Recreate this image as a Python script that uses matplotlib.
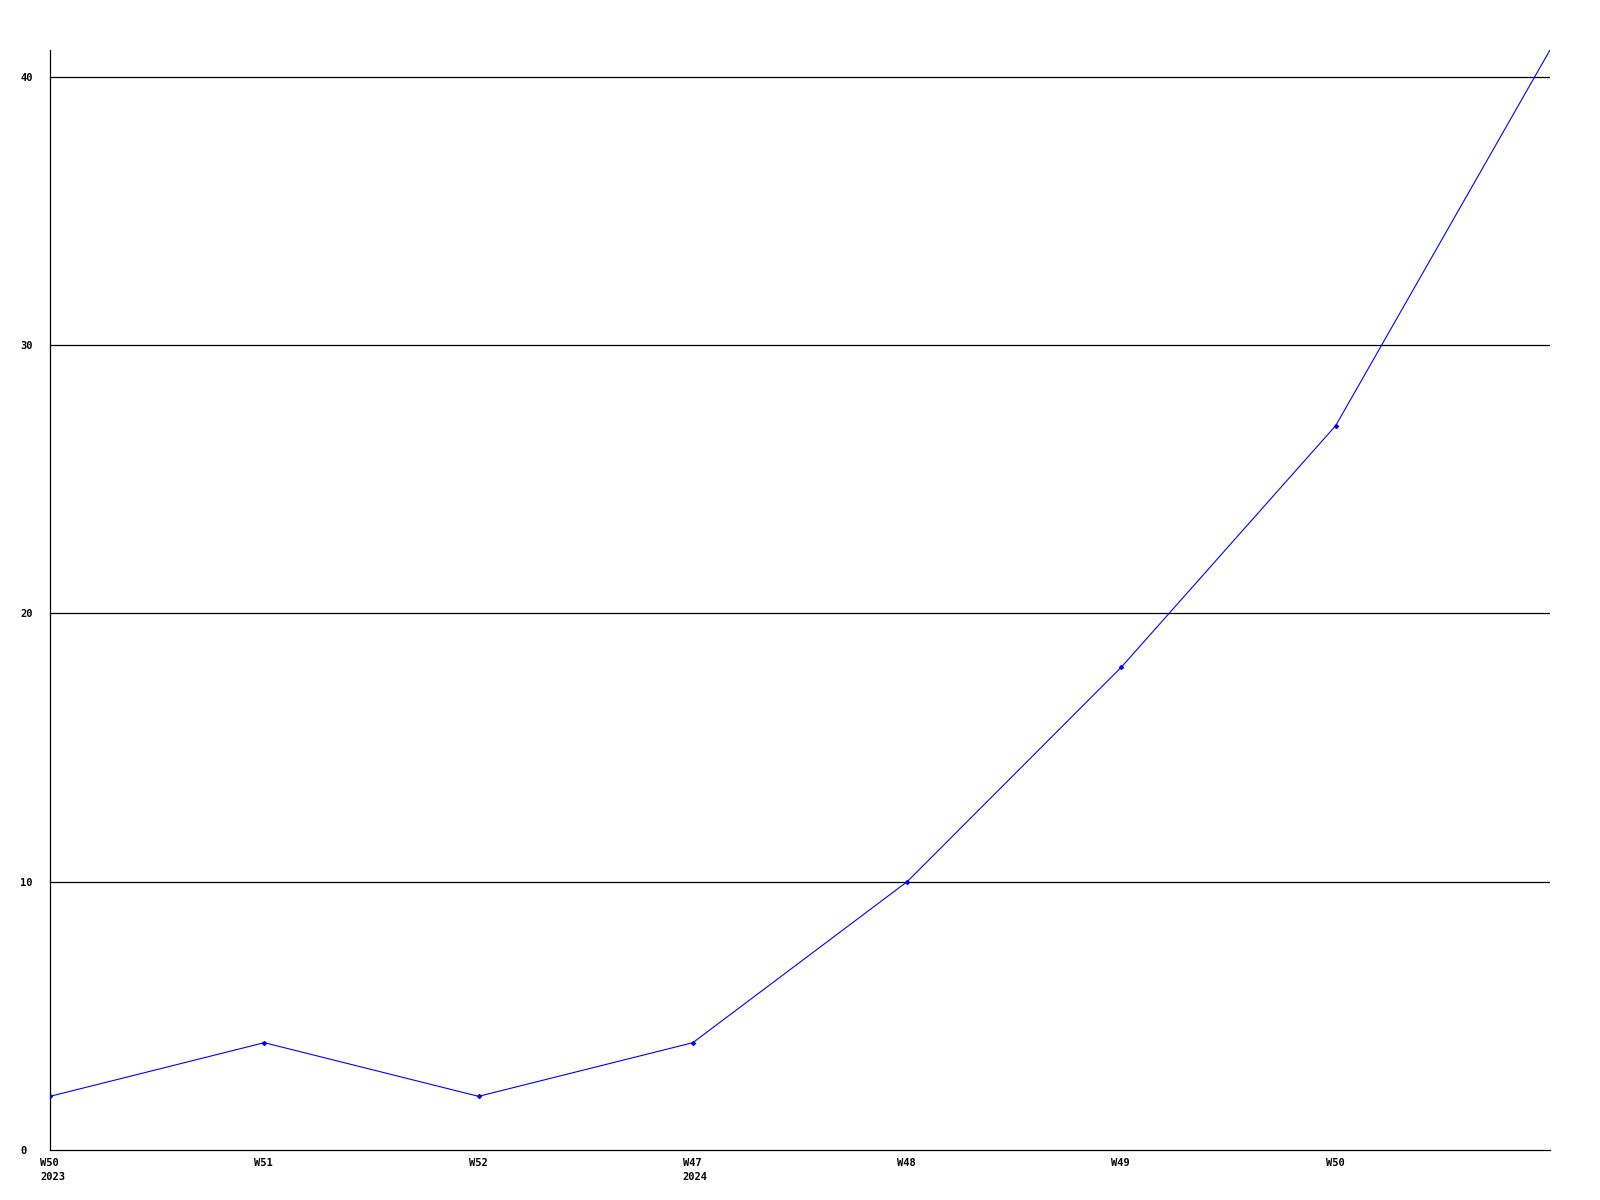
import numpy as np
import matplotlib
matplotlib.use("Agg")
from matplotlib import pyplot as plt
from matplotlib import transforms

# weekly counts, last point runs off to the right edge
week_labels = ["W50\n2023", "W51", "W52", "W47\n2024", "W48", "W49", "W50", ""]
counts = [2, 4, 2, 4, 10, 18, 27, 41]
y_ticks = [0, 10, 20, 30, 40]

fig = plt.figure(figsize=(16, 12), dpi=100)
ax = fig.add_axes([50 / 1600, 50 / 1200, 1500 / 1600, 1100 / 1200])

x = np.arange(len(counts))
ax.plot(x, counts, color="#0000ff", linewidth=0.8, marker="D", markersize=2,
        markevery=list(range(len(counts) - 1)), zorder=3)

ax.set_xlim(0, len(counts) - 1)
ax.set_ylim(0, max(counts))

for yv in y_ticks[1:]:
    ax.axhline(yv, color="black", linewidth=0.9, zorder=1)

ax.spines["top"].set_visible(False)
ax.spines["right"].set_visible(False)
ax.spines["left"].set_linewidth(0.9)
ax.spines["bottom"].set_linewidth(0.9)

font = dict(family="DejaVu Sans Mono", weight="bold", size=7.5)

ax.set_xticks(x)
ax.set_xticklabels(week_labels, ha="left", va="top", linespacing=1.5, **font)
ax.set_yticks(y_ticks)
ax.set_yticklabels([str(v) for v in y_ticks], ha="left", **font)
ax.tick_params(axis="both", length=0)
ax.tick_params(axis="x", pad=6)
ax.tick_params(axis="y", pad=21.5)

shift = transforms.ScaledTranslation(-10 / 100, 0, fig.dpi_scale_trans)
for lbl in ax.get_xticklabels():
    lbl.set_transform(lbl.get_transform() + shift)

fig.savefig("out.png", dpi=100, facecolor="white")
